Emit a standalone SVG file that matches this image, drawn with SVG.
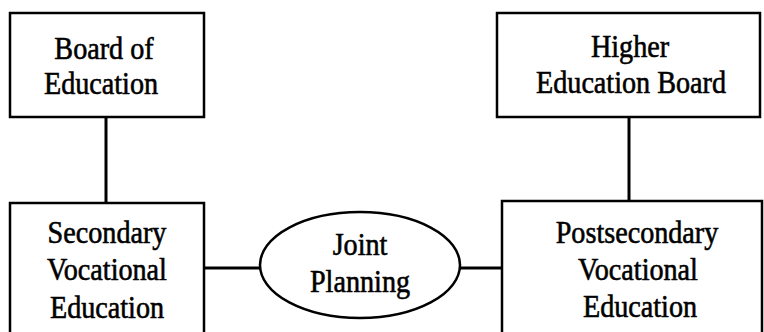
<svg xmlns="http://www.w3.org/2000/svg" width="764" height="332" viewBox="0 0 764 332">
<style>
.box{fill:#fff;stroke:#000;stroke-width:2.5}
.conn line{stroke:#000;stroke-width:3}
text{font-family:"Liberation Serif","Times New Roman",serif;font-size:32px;fill:#000;stroke:#000;stroke-width:0.6;text-anchor:middle}
</style>
<rect width="764" height="332" fill="#fff"/>
<g id="connectors" class="conn">
<line x1="106" y1="117" x2="106" y2="203"/>
<line x1="629" y1="117" x2="629" y2="201"/>
<line x1="204" y1="268" x2="260" y2="268"/>
<line x1="460" y1="268" x2="502" y2="268"/>
</g>
<g id="board">
<rect class="box" x="10" y="13" width="194" height="104"/>
<text transform="translate(104,59) scale(0.88,1)">Board of</text>
<text transform="translate(101,94) scale(0.88,1)">Education</text>
</g>
<g id="higher">
<rect class="box" x="497" y="13" width="263" height="104"/>
<text transform="translate(630,57) scale(0.88,1)">Higher</text>
<text transform="translate(631,93) scale(0.88,1)">Education Board</text>
</g>
<g id="secondary">
<rect class="box" x="10" y="203" width="194" height="140"/>
<text transform="translate(107,243) scale(0.88,1)">Secondary</text>
<text transform="translate(107,280) scale(0.88,1)">Vocational</text>
<text transform="translate(107,318) scale(0.88,1)">Education</text>
</g>
<g id="joint">
<ellipse class="box" cx="360" cy="265" rx="100" ry="53"/>
<text transform="translate(360,255) scale(0.88,1)">Joint</text>
<text transform="translate(360,292) scale(0.88,1)">Planning</text>
</g>
<g id="postsecondary">
<rect class="box" x="502" y="201" width="260" height="142"/>
<text transform="translate(637,243) scale(0.88,1)">Postsecondary</text>
<text transform="translate(638,280) scale(0.88,1)">Vocational</text>
<text transform="translate(640,317) scale(0.88,1)">Education</text>
</g>
</svg>
